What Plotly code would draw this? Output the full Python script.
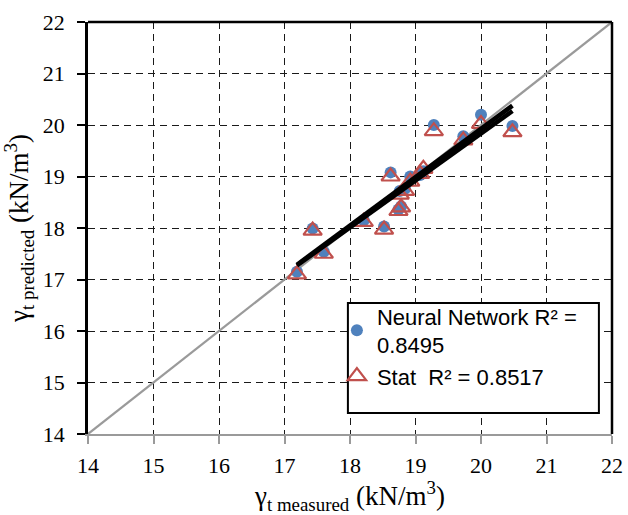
import numpy as np
import plotly.graph_objects as go

# measured values (x)
measured = [17.19, 17.43, 17.60, 18.21, 18.52, 18.62, 18.74, 18.78, 18.76, 18.84,
            18.92, 19.07, 19.12, 19.28, 19.73, 20.00, 20.48]
# Neural network predictions
nn_pred = [17.15, 17.99, 17.54, 18.15, 18.03, 19.08, 18.36, 18.42, 18.72, 18.76,
           19.00, 19.03, 19.10, 20.00, 19.78, 20.20, 19.98]
# Statistical predictions
stat_pred = [17.10, 17.95, 17.50, 18.12, 17.97, 19.00, 18.33, 18.40, 18.65, 18.72,
             18.90, 19.05, 19.15, 19.88, 19.70, 20.02, 19.86]

axis_min, axis_max = 14, 22
ticks = list(range(14, 23))
ident = [axis_min, axis_max]

mx = np.array(measured)
xfit = np.array([mx.min(), mx.max()])
nn_c = np.polyfit(mx, np.array(nn_pred), 1)
st_c = np.polyfit(mx, np.array(stat_pred), 1)

fig = go.Figure()
fig.add_trace(go.Scatter(x=ident, y=ident, mode="lines",
                         line=dict(color="#9a9a9a", width=2.2), showlegend=False, hoverinfo="skip"))
fig.add_trace(go.Scatter(x=measured, y=nn_pred, mode="markers", name="Neural Network R² =<br>0.8495",
                         marker=dict(symbol="circle", size=12, color="#4F81BD",
                                     line=dict(width=0))))
fig.add_trace(go.Scatter(x=measured, y=stat_pred, mode="markers", name="Stat  R² = 0.8517",
                         marker=dict(symbol="triangle-up-open", size=16, color="#C0504D",
                                     line=dict(width=2.2, color="#C0504D"))))
fig.add_trace(go.Scatter(x=xfit, y=np.polyval(nn_c, xfit), mode="lines",
                         line=dict(color="black", width=4.5), showlegend=False, hoverinfo="skip"))
fig.add_trace(go.Scatter(x=xfit, y=np.polyval(st_c, xfit), mode="lines",
                         line=dict(color="black", width=4.5), showlegend=False, hoverinfo="skip"))

tickfont = dict(family="Liberation Serif", size=22, color="black")
titlefont = dict(family="Liberation Serif", size=27, color="black")
grid = dict(showgrid=True, gridcolor="#1a1a1a", gridwidth=1.3, griddash="7px,5px",
            zeroline=False, range=[axis_min, axis_max], tickvals=ticks,
            ticktext=[str(t) for t in ticks], ticks="outside", ticklen=8, tickfont=tickfont,
            automargin=False)

fig.update_layout(
    width=628, height=515,
    margin=dict(l=88, r=16, t=22, b=81),
    paper_bgcolor="white", plot_bgcolor="white",
    xaxis=dict(**grid, showline=True, linecolor="#9a9a9a", linewidth=2, tickcolor="#9a9a9a",
               tickwidth=1.5, ticklabelstandoff=3,
               title=dict(text="γ<sub>t measured</sub> (kN/m<sup>3</sup>)", font=titlefont)),
    yaxis=dict(**grid, showline=True, linecolor="black", linewidth=2.5, tickcolor="black",
               tickwidth=1.5, ticklabelstandoff=8,
               title=dict(text="γ<sub>t predicted</sub> (kN/m<sup>3</sup>)", font=titlefont)),
    legend=dict(x=0.475, y=0.337, xanchor="left", yanchor="top", bgcolor="rgba(0,0,0,0)",
                borderwidth=0, font=dict(family="Liberation Sans", size=22, color="black"),
                tracegroupgap=0),
    shapes=[
        dict(type="line", xref="paper", yref="paper", x0=0, x1=1, y0=1, y1=1,
             line=dict(color="black", width=2.5)),
        dict(type="line", xref="paper", yref="paper", x0=1, x1=1, y0=0, y1=1,
             line=dict(color="black", width=2.5)),
        dict(type="rect", xref="paper", yref="paper", x0=0.496, x1=0.975, y0=0.051, y1=0.318,
             line=dict(color="black", width=2), fillcolor="white", layer="above"),
    ],
)

fig.write_html("out.html", config={"displayModeBar": False},
               post_script="document.body.style.margin='0px';document.body.style.overflow='hidden';")
